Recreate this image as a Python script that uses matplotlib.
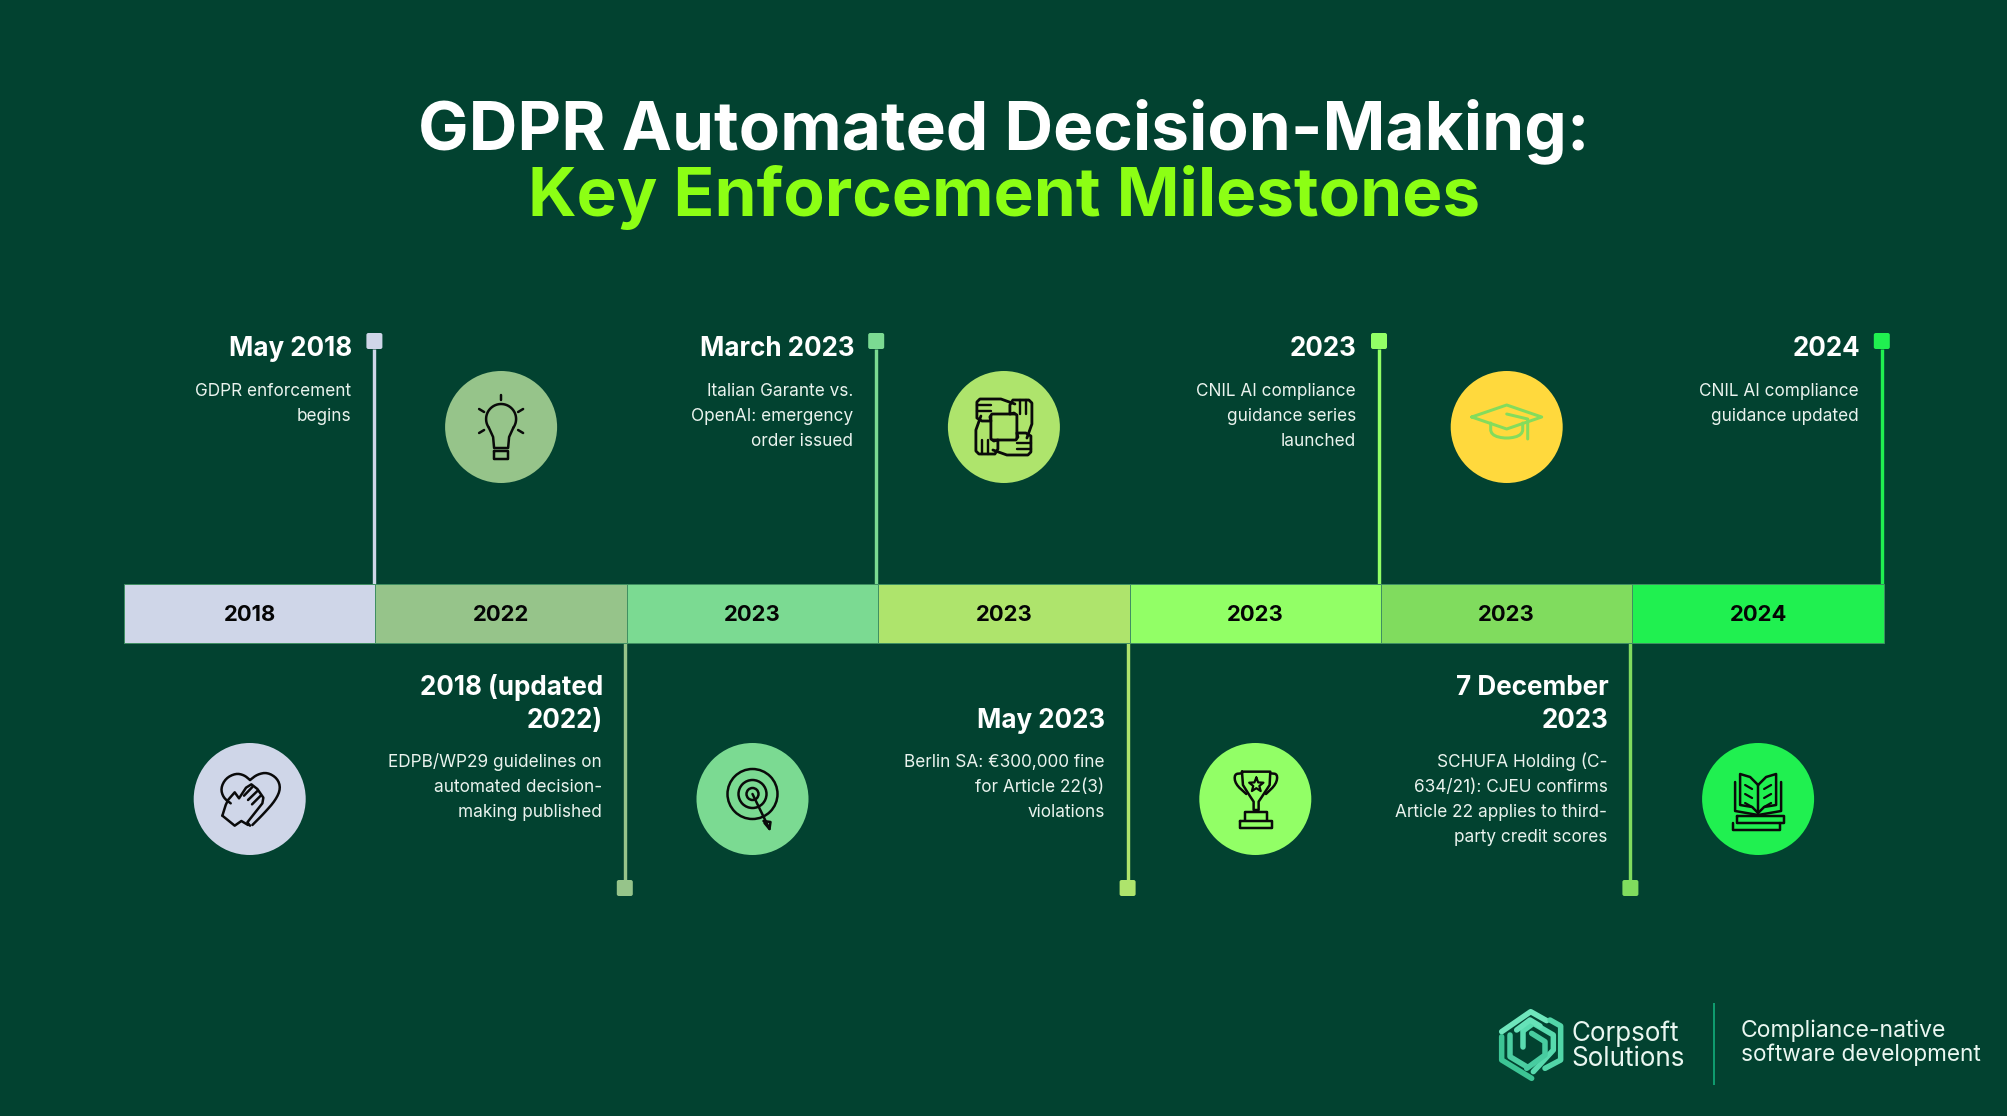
import numpy as np
import matplotlib
matplotlib.use('Agg')
import matplotlib.pyplot as plt
from matplotlib.patches import Circle, FancyBboxPatch

plt.rcParams['font.family'] = ['Inter', 'DejaVu Sans']

years = ['2018', '2022', '2023', '2023', '2023', '2023', '2024']
segment_colors = ['#CFD6E8', '#96C48A', '#7BDA92', '#AEE46C', '#92FF66', '#80DC5E', '#20F050']
circle_colors = ['#CFD6E8', '#96C48A', '#7BDA92', '#AEE46C', '#92FF66', '#FFD93D', '#20F050']
headings = [['May 2018'], ['2018 (updated', '2022)'], ['March 2023'], ['May 2023'],
            ['2023'], ['7 December', '2023'], ['2024']]
descriptions = [
    ['GDPR enforcement', 'begins'],
    ['EDPB/WP29 guidelines on', 'automated decision-', 'making published'],
    ['Italian Garante vs.', 'OpenAI: emergency', 'order issued'],
    ['Berlin SA: €300,000 fine', 'for Article 22(3)', 'violations'],
    ['CNIL AI compliance', 'guidance series', 'launched'],
    ['SCHUFA Holding (C-', '634/21): CJEU confirms', 'Article 22 applies to third-', 'party credit scores'],
    ['CNIL AI compliance', 'guidance updated'],
]

BG = '#024230'
BAR_X0 = 124
BAR_W = 251.4
BAR_TOP = 584
BAR_H = 59
PX = 0.72  # px to pt at dpi 100

fig = plt.figure(figsize=(20.08, 11.16), dpi=100, facecolor=BG)
ax = fig.add_axes([0, 0, 1, 1])
ax.set_xlim(0, 2008)
ax.set_ylim(1116, 0)
ax.axis('off')


def chaikin(pts, n=2):
    pts = np.array(pts, dtype=float)
    for _ in range(n):
        q = 0.75 * pts[:-1] + 0.25 * pts[1:]
        r = 0.25 * pts[:-1] + 0.75 * pts[1:]
        mid = np.empty((2 * len(q), 2))
        mid[0::2] = q
        mid[1::2] = r
        pts = np.vstack([pts[:1], mid, pts[-1:]])
    return pts


def stroke(pts, color='#0a0a0a', lw=2.5, smooth=False, z=6):
    pts = chaikin(pts) if smooth else np.array(pts, dtype=float)
    ax.plot(pts[:, 0], pts[:, 1], color=color, lw=lw * PX, solid_capstyle='round',
            solid_joinstyle='round', zorder=z)


def from_crop(x0, y0, pts):
    return [(x0 + p[0] / 3, y0 + p[1] / 3) for p in pts]


def ring(cx, cy, r, color='#0a0a0a', lw=2.5):
    ax.add_patch(Circle((cx, cy), r, fill=False, ec=color, lw=lw * PX, zorder=6))


def icon_bulb(cx, cy):
    t = np.radians(np.linspace(-35, 215, 40))
    arc = [(cx + 15 * np.cos(a), cy - 8 - 15 * np.sin(a)) for a in t]
    stroke(arc)
    stroke([arc[0], (cx + 8, cy + 10), (cx + 7, cy + 21), (cx - 7, cy + 21), (cx - 8, cy + 10), arc[-1]])
    stroke([(cx - 7, cy + 24), (cx + 7, cy + 24), (cx + 7, cy + 32), (cx - 7, cy + 32), (cx - 7, cy + 24)])
    stroke([(cx, cy - 32), (cx, cy - 27)])
    for s in (-1, 1):
        stroke([(cx + s * 22, cy - 18), (cx + s * 17, cy - 15)])
        stroke([(cx + s * 22, cy + 6), (cx + s * 17, cy + 3)])


def icon_hands(cx, cy):
    outline = [(11, -23), (-3, -28), (-24, -28), (-27, -25), (-27, -9), (-22, -6), (-13, -6),
               (-14, -10), (-12, -13), (11, -13)]
    stripes = [[(-27, -22), (-13, -22)], [(-27, -16), (-13, -16)]]
    for k in range(4):
        a = np.radians(90 * k)
        c, s = np.cos(a), np.sin(a)
        turn = lambda p: (cx + c * p[0] - s * p[1], cy + s * p[0] + c * p[1])
        stroke([turn(p) for p in outline], lw=2.8)
        for st in stripes:
            stroke([turn(p) for p in st], lw=2.4)


def icon_cap(cx, cy):
    col = '#84DC5C'
    stroke([(cx - 35, cy - 10), (cx, cy - 22), (cx + 35, cy - 10), (cx, cy + 2), (cx - 35, cy - 10)], col, 3)
    stroke([(cx - 16, cy - 4), (cx - 16, cy + 8), (cx, cy + 12), (cx + 16, cy + 8), (cx + 16, cy - 4)], col, 3, True)
    stroke([(cx, cy - 13), (cx + 21, cy - 8), (cx + 21, cy + 12)], col, 3)


def icon_heart(cx, cy):
    x0, y0 = cx - 39, cy - 34
    stroke(from_crop(x0, y0, [(60, 115), (38, 98), (30, 70), (45, 40), (75, 25), (100, 30), (118, 45)]), smooth=True)
    stroke(from_crop(x0, y0, [(118, 45), (140, 28), (170, 22), (200, 40), (210, 70), (195, 105),
                              (160, 145), (125, 180)]), smooth=True)
    stroke(from_crop(x0, y0, [(35, 152), (45, 120), (52, 105), (72, 82), (85, 100), (106, 68), (122, 58),
                              (140, 72), (158, 98), (155, 115), (110, 172), (118, 182)]))
    stroke(from_crop(x0, y0, [(35, 152), (72, 182), (92, 168), (112, 180)]))
    for p, q in [((100, 92), (125, 66)), ((112, 105), (140, 78)), ((124, 118), (150, 92))]:
        stroke(from_crop(x0, y0, [p, q]))


def icon_target(cx, cy):
    for r in (25, 14, 6):
        ring(cx, cy - 5, r)
    stroke([(cx, cy - 5), (cx + 17, cy + 30)])
    stroke([(cx + 11, cy + 22), (cx + 18, cy + 23), (cx + 17, cy + 30), (cx + 12, cy + 24)])


def icon_trophy(cx, cy):
    x0, y0 = cx - 35, cy - 39
    stroke(from_crop(x0, y0, [(65, 35), (150, 35), (148, 75), (125, 110), (115, 125), (115, 150),
                              (100, 150), (100, 125), (90, 110), (68, 75), (65, 35)]))
    stroke(from_crop(x0, y0, [(65, 40), (42, 42), (45, 72), (78, 102)]), smooth=True)
    stroke(from_crop(x0, y0, [(150, 40), (172, 42), (168, 72), (137, 102)]), smooth=True)
    stroke(from_crop(x0, y0, [(75, 180), (75, 155), (140, 155), (140, 180)]))
    stroke(from_crop(x0, y0, [(60, 182), (155, 182), (155, 205), (60, 205), (60, 182)]))
    a = np.radians(np.arange(0, 360.1, 36) - 90)
    r = np.where(np.arange(len(a)) % 2 == 0, 7.5, 3.2)
    sx = x0 + 108 / 3 + r * np.cos(a)
    sy = y0 + 75 / 3 + r * np.sin(a)
    stroke(list(zip(sx, sy)), lw=2.2)


def icon_book(cx, cy):
    stroke([(cx - 23, cy - 17), (cx - 23, cy + 12), (cx, cy + 16), (cx + 23, cy + 12), (cx + 23, cy - 17)])
    stroke([(cx, cy - 14), (cx - 8, cy - 22), (cx - 18, cy - 25), (cx - 18, cy + 6), (cx - 6, cy + 8), (cx, cy + 14)])
    stroke([(cx, cy - 14), (cx + 8, cy - 22), (cx + 18, cy - 25), (cx + 18, cy + 6), (cx + 6, cy + 8), (cx, cy + 14)])
    stroke([(cx, cy - 14), (cx, cy + 14)])
    for dy in (-14, -5, 4):
        stroke([(cx - 13, cy + dy), (cx - 6, cy + dy + 4)], lw=2.2)
        stroke([(cx + 13, cy + dy), (cx + 6, cy + dy + 4)], lw=2.2)
    stroke([(cx - 21, cy + 17), (cx + 26, cy + 17), (cx + 26, cy + 24), (cx - 21, cy + 24), (cx - 21, cy + 17)])
    stroke([(cx - 25, cy + 24), (cx - 25, cy + 31), (cx + 22, cy + 31), (cx + 22, cy + 24)])


icons = [icon_heart, icon_bulb, icon_target, icon_hands, icon_trophy, icon_cap, icon_book]

# title
ax.text(1004, 149, 'GDPR Automated Decision-Making:', color='white', fontsize=67.5 * PX,
        fontweight='bold', ha='center', va='baseline')
ax.text(1004, 216, 'Key Enforcement Milestones', color='#8CFF14', fontsize=67.5 * PX,
        fontweight='bold', ha='center', va='baseline')

# year band
lefts = BAR_X0 + BAR_W * np.arange(len(years))
ax.bar(lefts, BAR_H, width=BAR_W, bottom=BAR_TOP, align='edge', color=segment_colors,
       edgecolor='#3F8F62', linewidth=0.7, zorder=3)
for left, year in zip(lefts, years):
    ax.text(left + BAR_W / 2, 621, year, color='#050505', fontsize=22 * PX, fontweight='bold',
            ha='center', va='baseline', zorder=5)

# icon discs: below the band on even index, above on odd
for i, (col, draw) in enumerate(zip(circle_colors, icons)):
    cx = lefts[i] + BAR_W / 2
    cy = 799 if i % 2 == 0 else 427
    ax.add_patch(Circle((cx, cy), 56, color=col, lw=0, zorder=4))
    draw(cx, cy)

# milestones: text above the band on even index, below on odd
for i, (head, body, col) in enumerate(zip(headings, descriptions, segment_colors)):
    above = i % 2 == 0
    stem_x = lefts[i] + BAR_W - 2 + (i == 0)
    if above:
        ax.plot([stem_x, stem_x], [349, BAR_TOP], color=col, lw=3.4 * PX, zorder=2, solid_capstyle='butt')
        box_y = 333
        head_y = [356]
        body_y = 396
    else:
        ax.plot([stem_x, stem_x], [BAR_TOP + BAR_H, 880], color=col, lw=3.4 * PX, zorder=2, solid_capstyle='butt')
        box_y = 880
        head_y = [695, 728] if len(head) == 2 else [728]
        body_y = 767
    text_x = stem_x - 22
    ax.add_patch(FancyBboxPatch((stem_x - 7, box_y + 1), 14, 14, boxstyle='round,pad=1,rounding_size=2',
                                fc=col, ec='none', zorder=3))
    for line, y in zip(head, head_y):
        ax.text(text_x, y, line, color='white', fontsize=26 * PX, fontweight='bold', ha='right', va='baseline')
    for j, line in enumerate(body):
        ax.text(text_x - 1, body_y + 25 * j, line, color='#EAF3EE', fontsize=17.2 * PX, ha='right', va='baseline')

# logo and strapline
ax.plot([1714, 1714], [1004, 1084], color='#0F9B6E', lw=2 * PX)
logo_strokes = [
    ([(35, 95), (122, 35), (170, 62)], '#6FE6BC'),
    ([(180, 60), (212, 78), (212, 180), (165, 205)], '#52D6A8'),
    ([(35, 110), (35, 180), (125, 235)], '#3CC494'),
    ([(60, 105), (60, 170), (110, 200)], '#4CCFA2'),
    ([(100, 92), (130, 70), (190, 105), (190, 150), (130, 215)], '#58DAAE'),
    ([(100, 92), (100, 140)], '#5ADCB0'),
    ([(125, 100), (165, 125), (165, 165), (110, 205)], '#48CCA0'),
    ([(80, 90), (120, 60), (150, 78)], '#66E2B8'),
]
for pts, c in logo_strokes:
    stroke(from_crop(1490, 1000, pts), c, 5.5, z=3)

for text, x, y, size in [('Corpsoft', 1571.5, 1041, 26), ('Solutions', 1571.5, 1065.5, 26),
                         ('Compliance-native', 1741, 1037, 23), ('software development', 1741, 1061, 22.6)]:
    ax.text(x, y, text, color='#EAF7F1', fontsize=size * PX, ha='left', va='baseline')

fig.savefig('out.png', dpi=100, facecolor=BG)
